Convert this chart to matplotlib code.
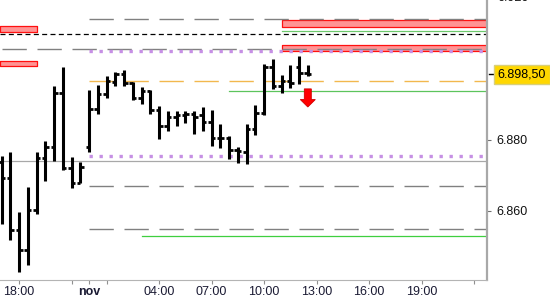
import matplotlib
matplotlib.use("Agg")
import matplotlib.pyplot as plt
import pandas as pd
from matplotlib.patches import FancyArrow

plt.rcParams["font.family"] = ["Liberation Sans", "DejaVu Sans"]
plt.rcParams["lines.scale_dashes"] = False

# 30 minute bars, evening session then the next day
bar_times = list(pd.date_range("2012-10-31 17:00", "2012-10-31 21:30", freq="30min")) + \
            list(pd.date_range("2012-11-01 00:00", "2012-11-01 12:30", freq="30min"))

opens = [6873.8, 6869.3, 6854.6, 6849.0, 6860.3, 6874.9, 6878.0, 6893.2, 6872.1, 6867.9,
         6878.0, 6888.7, 6893.0, 6896.3, 6898.6, 6896.1, 6891.8, 6893.9, 6888.5, 6884.0,
         6886.6, 6887.0, 6887.3, 6887.0, 6885.2, 6880.6, 6880.6, 6877.2, 6876.7, 6883.0,
         6887.7, 6900.6, 6895.3, 6896.7, 6900.6, 6899.0]
highs = [6875.5, 6876.6, 6859.7, 6866.8, 6876.6, 6879.7, 6895.2, 6900.6, 6875.2, 6873.8,
         6894.1, 6895.5, 6898.1, 6899.2, 6899.7, 6896.4, 6895.0, 6894.1, 6889.6, 6888.2,
         6888.3, 6888.3, 6888.2, 6889.3, 6888.5, 6884.5, 6881.1, 6878.0, 6884.5, 6889.9,
         6901.4, 6902.7, 6898.3, 6901.1, 6903.7, 6901.1]
lows = [6856.3, 6851.8, 6842.9, 6844.8, 6859.2, 6868.5, 6874.2, 6871.5, 6866.5, 6867.9,
        6876.6, 6887.2, 6891.8, 6895.2, 6895.2, 6891.3, 6890.1, 6887.3, 6880.4, 6882.6,
        6883.9, 6884.9, 6881.7, 6882.6, 6878.4, 6877.7, 6874.6, 6873.5, 6873.2, 6881.4,
        6887.0, 6894.5, 6893.2, 6894.6, 6895.8, 6898.0]
closes = [6869.3, 6854.6, 6849.0, 6860.3, 6874.9, 6878.0, 6893.2, 6872.1, 6867.9, 6872.4,
          6888.7, 6893.0, 6896.6, 6898.6, 6896.1, 6891.8, 6893.9, 6888.5, 6883.9, 6886.6,
          6887.0, 6887.3, 6886.6, 6885.2, 6880.6, 6880.6, 6877.2, 6877.0, 6883.0, 6887.7,
          6900.6, 6895.3, 6896.7, 6896.1, 6899.0, 6898.5]
last_price = 6898.50

# levels drawn on the chart
gray_levels = [6914.1, 6905.6, 6867.0, 6854.9]
gray_starts = ["2012-11-01 00:00", None, "2012-11-01 00:00", "2012-11-01 00:00"]
black_level = 6909.9
pivot_level = 6874.1
orange_level = 6896.6
purple_levels = [6905.1, 6875.5]
green_levels = [6910.7, 6893.8, 6853.0]
green_starts = ["2012-11-01 11:00", "2012-11-01 08:00", "2012-11-01 03:00"]

zone_lows = [6910.3, 6900.8, 6911.9, 6905.2]
zone_highs = [6912.0, 6902.3, 6913.8, 6906.8]
zone_starts = [None, None, "2012-11-01 11:00", "2012-11-01 11:00"]
zone_ends = ["2012-10-31 19:00", "2012-10-31 19:00", None, None]

signal_time = "2012-11-01 12:30"
signal_top = 6894.4
signal_bottom = 6889.3

tick_times = ["2012-10-31 18:00", "2012-10-31 21:00", "2012-11-01 00:00", "2012-11-01 01:00",
              "2012-11-01 04:00", "2012-11-01 07:00", "2012-11-01 10:00", "2012-11-01 13:00",
              "2012-11-01 16:00", "2012-11-01 19:00", "2012-11-01 22:00"]
tick_labels = ["18:00", "", "nov", "", "04:00", "07:00", "10:00", "13:00", "16:00", "19:00", ""]
price_ticks = [6860, 6880]
top_tick = 6920


def session_x(t):
    # hours from midnight, the 22:00-00:00 break is skipped
    h = (pd.Timestamp(t) - pd.Timestamp("2012-11-01 00:00")) / pd.Timedelta(hours=1)
    return h + 2 if h < -2 else h


def fmt_price(v, dec=0):
    s = f"{v:,.{dec}f}"
    return s.replace(",", "X").replace(".", ",").replace("X", ".")


fig = plt.figure(figsize=(5.5, 3), dpi=100)
ax = fig.add_axes([0, 20 / 300, 487 / 550, 280 / 300])
ax.set_xlim(-5.09, 22.74)
ax.set_ylim(6840.56, 6919.44)
x_left, x_right = ax.get_xlim()

# red zones
for lo, hi, s, e in zip(zone_lows, zone_highs, zone_starts, zone_ends):
    x0 = x_left if s is None else session_x(s)
    x1 = x_right if e is None else session_x(e)
    ax.fill_between([x0, x1], lo, hi, facecolor="#ff9494", edgecolor="#ff1010",
                    linewidth=0.9, zorder=1)

for y, s in zip(gray_levels, gray_starts):
    x0 = session_x("2012-10-31 17:00") if s is None else session_x(s)
    ax.plot([x0, x_right], [y, y], color="#808080", lw=1.0, dashes=(17.5, 7.7), zorder=2)

ax.plot([x_left, x_right], [black_level] * 2, color="black", lw=0.9, dashes=(3.6, 2.4), zorder=2)
ax.plot([x_left, x_right], [pivot_level] * 2, color="#a8a8a8", lw=0.9, zorder=2)
ax.plot([0, x_right], [orange_level] * 2, color="#f2b84e", lw=1.0, dashes=(17.5, 7.7), zorder=2)

for y in purple_levels:
    ax.plot([0, x_right], [y, y], color="#c690e4", lw=2.4, dashes=(2.4, 4.8), zorder=2)

for y, s, c in zip(green_levels, green_starts, ["#6cc86c", "#5cc45c", "#3fcf3f"]):
    ax.plot([session_x(s), x_right], [y, y], color=c, lw=0.9, zorder=2)

# ohlc bars
xs = [session_x(t) for t in bar_times]
ax.vlines(xs, lows, highs, color="black", lw=2.2, capstyle="butt", zorder=3)
ax.hlines(opens, [x - 0.2 for x in xs], xs, color="black", lw=2.0, capstyle="butt", zorder=3)
ax.hlines(closes, xs, [x + 0.2 for x in xs], color="black", lw=2.0, capstyle="butt", zorder=3)

# sell signal
ax.add_patch(FancyArrow(session_x(signal_time), signal_top, 0, signal_bottom - signal_top,
                        width=0.4, head_width=0.86, head_length=2.1, length_includes_head=True,
                        facecolor="#ff0000", edgecolor="#d00000", lw=0.6, zorder=4))

for side in ["top", "left"]:
    ax.spines[side].set_visible(False)
ax.spines["right"].set_color("#a8a8a8")
ax.spines["right"].set_linewidth(1.6)
ax.spines["bottom"].set_color("#b4b4b4")
ax.spines["bottom"].set_linewidth(0.8)

ax.yaxis.tick_right()
ax.set_yticks(price_ticks)
ax.set_yticklabels([fmt_price(v) for v in price_ticks])
ax.tick_params(axis="y", length=3, width=0.8, color="#707070", pad=3.4,
               labelsize=9, labelcolor="#111111")
ax.text(1.022, top_tick, fmt_price(top_tick), transform=ax.get_yaxis_transform(),
        va="center", ha="left", fontsize=9, color="#111111", clip_on=False)

ax.set_xticks([session_x(t) for t in tick_times])
ax.set_xticklabels(tick_labels)
ax.tick_params(axis="x", length=3, width=0.8, color="#909090", pad=1,
               labelsize=9, labelcolor="#1a1a33")
for lab in ax.get_xticklabels():
    if lab.get_text() == "nov":
        lab.set_fontweight("bold")

# last price box
ax.plot([1.004, 1.012], [last_price] * 2, transform=ax.get_yaxis_transform(),
        color="black", lw=1.0, clip_on=False)
ax.text(1.022, last_price, fmt_price(last_price, 2), transform=ax.get_yaxis_transform(),
        va="center", ha="left", fontsize=9, color="black",
        bbox=dict(boxstyle="square,pad=0.28", facecolor="#ffd700", edgecolor="#d8cf7a", lw=1))

fig.savefig("out.png", dpi=100)
